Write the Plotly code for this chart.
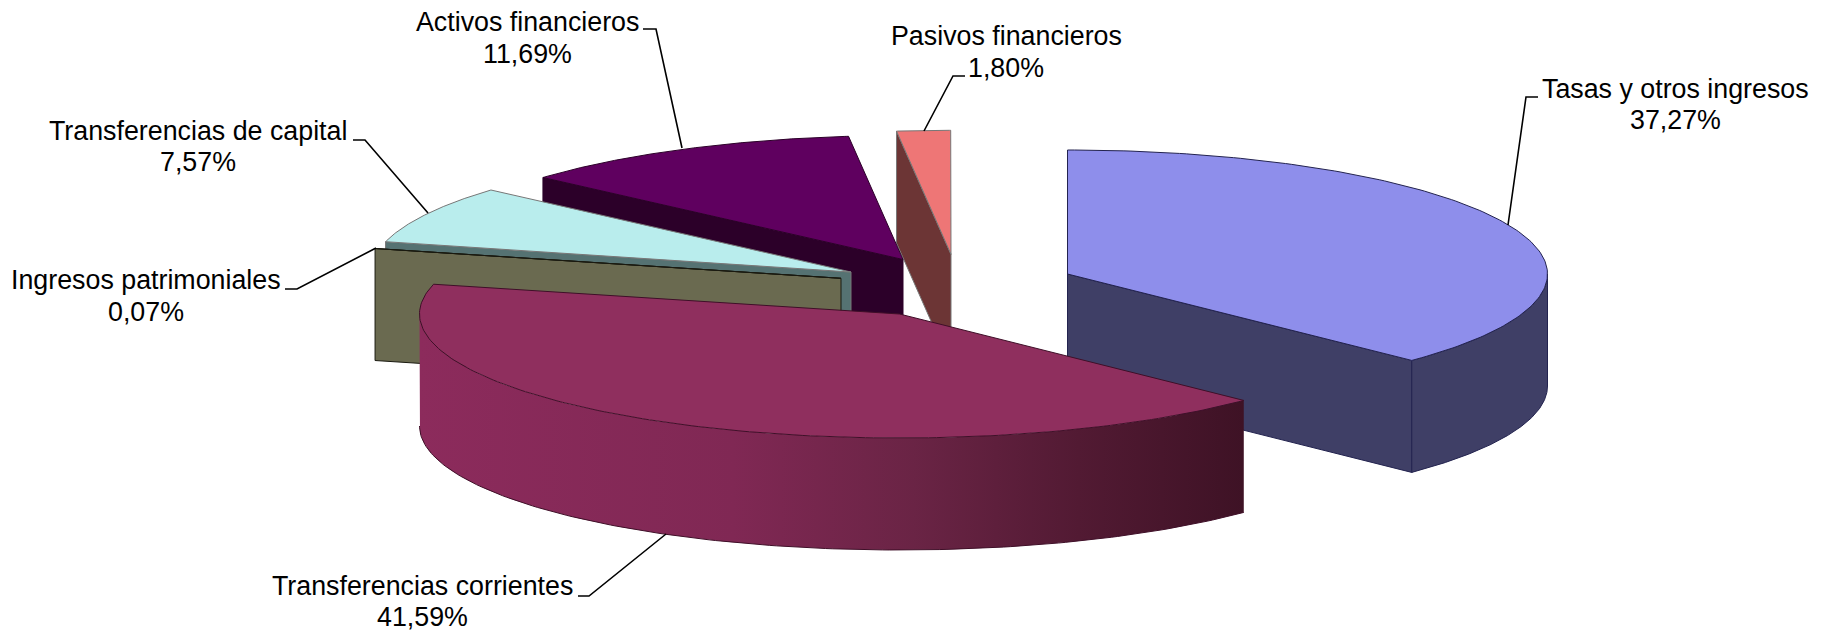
import numpy as np
import plotly.graph_objects as go

# ---- data ----
categories = ["Tasas y otros ingresos", "Transferencias corrientes", "Ingresos patrimoniales",
              "Transferencias de capital", "Activos financieros", "Pasivos financieros"]
values = [37.27, 41.59, 0.07, 7.57, 11.69, 1.80]

# ---- look of each slice (same order as the data) ----
top_colors = ["#8E8EEB", "#8F2F5E", "#6A6A50", "#B9EDED", "#5F005F", "#EE7676"]
wall_colors = ["#3F3F66", "#8A2B5B", "#6A6A50", "#557272", "#2C0029", "#6C3535"]
edge_colors = ["#23234F", "#3F0F28", "#1A1A10", "#777777", "#2C0029", "#777777"]
# exploded position of each slice's point on the page
apex_x = [1067.5, 899.5, 841, 851, 903, 951]
apex_y = [274, 314, 278.3, 272, 259.5, 254.3]
draw_order = [5, 4, 3, 2, 0, 1]
RX, RY, DEPTH = 480, 124, 112

# label placement: centre x and the y of each of the two lines
label_x = [1675, 422, 146, 198, 527, 1006]
label_y1 = [89, 586, 280, 131, 22, 36]
label_y2 = [120, 617, 312, 162, 54, 68]
leader_x = [[1538, 1526, 1508], [578, 589, 666], [285, 297, 376], [353, 365, 428], [643, 656, 682], [965, 953, 924]]
leader_y = [[97, 97, 225], [596, 596, 534], [289, 289, 248], [140, 140, 213], [29, 29, 148], [76, 76, 131]]

# shading of the front rim of the largest slice, left to right
rim_shading = [[0.0, "#8C2B5C"], [0.38, "#802854"], [0.6, "#6A2445"], [0.8, "#521A33"], [1.0, "#3E1225"]]

fig = go.Figure()


def poly(x, y, fill, line=None, width=1):
    fig.add_trace(go.Scatter(
        x=list(x), y=list(y), mode="lines", fill="toself", fillcolor=fill,
        line=dict(color=line or fill, width=width), hoverinfo="skip", showlegend=False))


def rim(cx, cy, theta):
    return cx + RX * np.sin(theta), cy - RY * np.cos(theta)


edges = np.radians(np.concatenate([[0], np.cumsum(values)]) * 3.6)

for i in draw_order:
    a0, a1 = edges[i], edges[i + 1]
    cx, cy = apex_x[i], apex_y[i]
    # flat cut faces that turn towards the viewer
    for ang, visible in ((a0, a0 > np.pi), (a1, a1 < np.pi)):
        if visible:
            ex, ey = rim(cx, cy, ang)
            poly([cx, ex, ex, cx, cx], [cy, ey, ey + DEPTH, cy + DEPTH, cy], wall_colors[i], edge_colors[i])
    # outer rim, the part facing the viewer
    lo, hi = max(a0, np.pi / 2), min(a1, 3 * np.pi / 2)
    if hi > lo:
        ts = np.linspace(lo, hi, 160)
        xs, ys = rim(cx, cy, ts)
        rx_, ry_ = np.r_[xs, xs[::-1], xs[0]], np.r_[ys, ys[::-1] + DEPTH, ys[0]]
        if i == 1:
            fig.add_trace(go.Scatter(
                x=list(rx_), y=list(ry_), mode="lines", fill="toself",
                fillgradient=dict(type="horizontal", colorscale=rim_shading),
                line=dict(color="rgba(0,0,0,0)", width=0), hoverinfo="skip", showlegend=False))
            fig.add_trace(go.Scatter(x=list(xs), y=list(ys + DEPTH), mode="lines",
                                     line=dict(color=edge_colors[i], width=1),
                                     hoverinfo="skip", showlegend=False))
        else:
            poly(rx_, ry_, wall_colors[i], edge_colors[i])
    # top face
    ts = np.linspace(a0, a1, 160)
    xs, ys = rim(cx, cy, ts)
    poly(np.r_[cx, xs, cx], np.r_[cy, ys, cy], top_colors[i], edge_colors[i])

# leader lines and labels
for i, name in enumerate(categories):
    fig.add_trace(go.Scatter(x=leader_x[i], y=leader_y[i], mode="lines",
                             line=dict(color="#000000", width=1.6), hoverinfo="skip", showlegend=False))
    pct = f"{values[i]:.2f}".replace(".", ",") + "%"
    for text, y in ((name, label_y1[i]), (pct, label_y2[i])):
        fig.add_annotation(x=label_x[i], y=y, text=text, showarrow=False,
                           xref="x", yref="y", xanchor="center", yanchor="middle", align="center",
                           font=dict(family="Liberation Sans", size=26.8, color="#000000"))

fig.update_layout(
    width=1830, height=633, margin=dict(l=0, r=0, t=0, b=0),
    paper_bgcolor="#FFFFFF", plot_bgcolor="#FFFFFF", showlegend=False, hovermode=False,
    xaxis=dict(range=[0, 1830], visible=False, fixedrange=True),
    yaxis=dict(range=[633, 0], visible=False, fixedrange=True),
)
fig.write_html("out.html", config={"displayModeBar": False},
               post_script="document.body.style.margin='0';document.body.style.overflow='hidden';")
